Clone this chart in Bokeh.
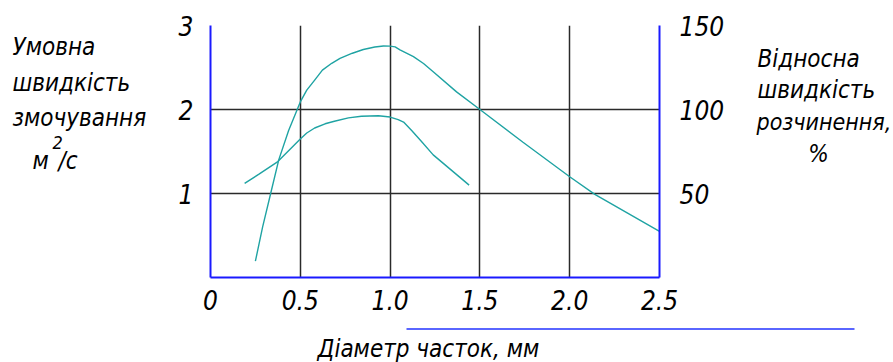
from bokeh.plotting import figure
from bokeh.layouts import row, column
from bokeh.models import Range1d, LinearAxis, FixedTicker, Label, Arrow, Grid
from bokeh.embed import file_html
from bokeh.resources import INLINE

# ---- data ----
diameter_dissolution = [0.25, 0.29, 0.335, 0.38, 0.435, 0.5, 0.536, 0.58, 0.623, 0.675, 0.721,
                        0.79, 0.851, 0.915, 0.963, 1.0, 1.028, 1.055, 1.13, 1.186, 1.24,
                        1.37, 1.5, 1.74, 2.0, 2.14, 2.32, 2.5]
dissolution_pct = [9.7, 30, 50, 70, 87.5, 104.5, 111.5, 117.5, 123.4, 127.5, 130.4,
                   133.5, 135.7, 137.2, 137.8, 137.7, 137.3, 135.5, 131.5, 127.4, 122.5,
                   110.5, 100, 80.5, 60, 49.5, 38.5, 27.5]

diameter_wetting = [0.19, 0.27, 0.375, 0.5, 0.536, 0.58, 0.638, 0.69, 0.768, 0.84, 0.935,
                    1.0, 1.045, 1.075, 1.12, 1.17, 1.24, 1.44]
wetting_rate = [1.12, 1.23, 1.38, 1.65, 1.72, 1.78, 1.83, 1.86, 1.90, 1.92, 1.925,
                1.91, 1.88, 1.85, 1.75, 1.63, 1.46, 1.10]

x_ticks = [0, 0.5, 1.0, 1.5, 2.0, 2.5]
x_tick_labels = ["0", "0.5", "1.0", "1.5", "2.0", "2.5"]
left_ticks = [1, 2, 3]
right_ticks = [50, 100, 150]

FONT = "'DejaVu Sans Condensed', 'Liberation Sans Narrow', Roboto, sans-serif"
AXIS_BLUE = "#1a1aff"
CURVE = "#1fa3a3"

TOP_H = 325
LEFT_W = 170
MAIN_W = 575
RIGHT_W = 893 - LEFT_W - MAIN_W
BOTTOM_H = 362 - TOP_H
FRAME_TOP, FRAME_BOTTOM = 25, 277   # page pixels of the chart frame


def blank(w, h, x0, y_bottom, y_top):
    # text panel whose data units are page pixels
    f = figure(width=w, height=h, output_backend="svg", toolbar_location=None,
               x_axis_location=None, y_axis_location=None, min_border=0,
               x_range=Range1d(x0, x0 + w), y_range=Range1d(y_bottom, y_top))
    f.center = [r for r in f.center if not isinstance(r, Grid)]
    f.outline_line_color = None
    f.border_fill_color = "white"
    f.background_fill_color = "white"
    return f


# ---- main chart ----
p = figure(width=MAIN_W, height=TOP_H, output_backend="svg", toolbar_location=None,
           x_range=Range1d(0, 2.5), y_range=Range1d(0, 3),
           min_border_left=40, min_border_right=86, min_border_top=FRAME_TOP,
           min_border_bottom=TOP_H - FRAME_BOTTOM, x_axis_location=None, y_axis_location=None)
p.extra_y_ranges = {"pct": Range1d(0, 150)}
p.outline_line_color = None
p.background_fill_color = "white"
p.border_fill_color = "white"
p.center = [r for r in p.center if not isinstance(r, Grid)]


def style_axis(ax, standoff):
    ax.axis_line_color = AXIS_BLUE
    ax.axis_line_width = 2
    ax.major_tick_line_color = None
    ax.minor_tick_line_color = None
    ax.major_tick_in = 0
    ax.major_tick_out = 0
    ax.major_label_standoff = standoff
    ax.major_label_text_font = FONT
    ax.major_label_text_font_style = "italic"
    ax.major_label_text_font_size = "26px"
    ax.major_label_text_color = "black"


xaxis = LinearAxis(ticker=FixedTicker(ticks=x_ticks),
                   major_label_overrides={t: l for t, l in zip(x_ticks, x_tick_labels)})
style_axis(xaxis, 12)
p.add_layout(xaxis, "below")

yaxis = LinearAxis(ticker=FixedTicker(ticks=left_ticks))
style_axis(yaxis, 17)
p.add_layout(yaxis, "left")

raxis = LinearAxis(y_range_name="pct", ticker=FixedTicker(ticks=right_ticks))
style_axis(raxis, 20)
p.add_layout(raxis, "right")

p.add_layout(Grid(dimension=0, ticker=FixedTicker(ticks=[0.5, 1.0, 1.5, 2.0]),
                  grid_line_color="#2a2a2a", grid_line_width=1.5))
p.add_layout(Grid(dimension=1, ticker=FixedTicker(ticks=[1, 2]),
                  grid_line_color="#2a2a2a", grid_line_width=1.5))

p.line(diameter_dissolution, dissolution_pct, y_range_name="pct",
       line_color=CURVE, line_width=1.4)
p.line(diameter_wetting, wetting_rate, line_color=CURVE, line_width=1.4)


def lab(fig, px, py, text, size="24px", align="left"):
    fig.add_layout(Label(x=px, y=py, text=text, text_font=FONT, text_font_style="italic",
                         text_font_size=size, text_baseline="middle", text_align=align,
                         text_color="black"))


# side panels: their frames line up with the chart frame (rows align frames)
left = blank(LEFT_W, TOP_H, 0, FRAME_BOTTOM, FRAME_TOP)
for px, py, t, s in [(12, 46, "Умовна", "24px"), (12, 82, "швидкість", "24px"),
                     (12, 117, "змочування", "24px"), (32, 160, "м", "24px"),
                     (52, 142, "2", "18px"), (58, 160, "/с", "24px")]:
    lab(left, px, py, t, s)

right = blank(RIGHT_W, TOP_H, LEFT_W + MAIN_W, FRAME_BOTTOM, FRAME_TOP)
lab(right, 757, 58, "Відносна")
lab(right, 757, 89, "швидкість")
lab(right, 756, 121, "розчинення,", size="23px")
lab(right, 818, 153, "%", align="center")

bottom = blank(893, BOTTOM_H, 0, 362, TOP_H)
lab(bottom, 317, 348, "Діаметр часток, мм")
bottom.add_layout(Arrow(end=None, x_start=406, x_end=854, y_start=328.5, y_end=328.5,
                        line_color="#5a66ff", line_width=2))

layout = column(row(left, p, right), bottom)
open("out.html", "w").write(file_html(layout, INLINE))
